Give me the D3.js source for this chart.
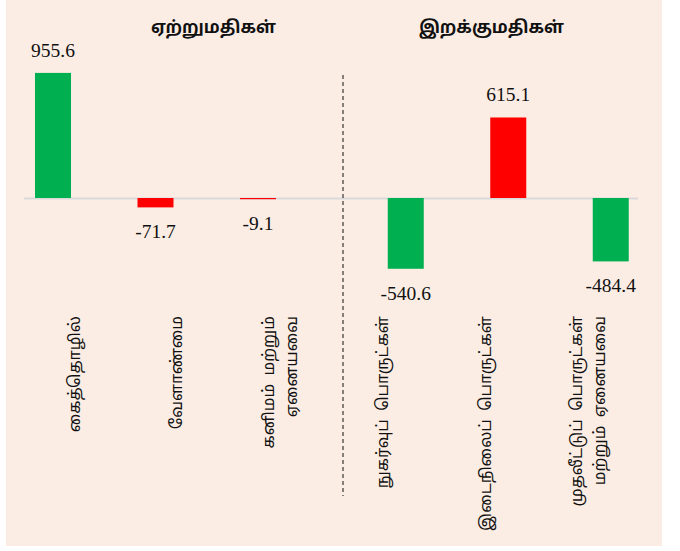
<!DOCTYPE html>
<html><head><meta charset="utf-8">
<script src="https://cdn.jsdelivr.net/npm/d3@7"></script>
<style>
html,body{margin:0;padding:0;background:#fff;}
svg{display:block;}
</style></head>
<body>
<svg id="chart" width="680" height="551"></svg>
<script>
// ---- data ----
const groupTitles = ["ஏற்றுமதிகள்", "இறக்குமதிகள்"];
const exportCats = ["கைத்தொழில்", "வேளாண்மை", "கனிமம்  மற்றும்|ஏனையவை"];
const exportVals = [955.6, -71.7, -9.1];
const importCats = ["நுகர்வுப்  பொருட்கள்", "இடைநிலைப்  பொருட்கள்", "முதலீட்டுப்  பொருட்கள்|மற்றும்  ஏனையவை"];
const importVals = [-540.6, 615.1, -484.4];

const GREEN = "#00b050", RED = "#ff0000";
const serif = "'Times New Roman','Liberation Serif',serif";
const tamil = "Latha,'Noto Sans Tamil','Lohit Tamil','Noto Sans',sans-serif";

const svg = d3.select("#chart");
svg.append("rect").attr("x", 6).attr("y", 0).attr("width", 656).attr("height", 546).attr("fill", "#fcede4");

const y = d3.scaleLinear().domain([-1000, 1000]).range([328.9, 67.1]);
const pad = 1 - 36 / 102.5;
const xL = d3.scaleBand().domain(exportCats).range([1.75, 309.25]).paddingInner(pad).paddingOuter(pad / 2);
const xR = d3.scaleBand().domain(importCats).range([354.5, 662]).paddingInner(pad).paddingOuter(pad / 2);
const xLab = d3.scaleBand().domain(exportCats.concat(importCats)).range([22.6, 639.4]);

// baseline
svg.append("line").attr("x1", 24).attr("x2", 638).attr("y1", y(0) + 0.5).attr("y2", y(0) + 0.5)
  .attr("stroke", "#d9d9d9").attr("stroke-width", 2);

const series = [
  {cats: exportCats, vals: exportVals, x: xL, pos: GREEN, neg: RED},
  {cats: importCats, vals: importVals, x: xR, pos: RED, neg: GREEN}
];

series.forEach(s => {
  const data = s.cats.map((c, i) => ({c, v: s.vals[i]}));
  svg.append("g").selectAll("rect").data(data).join("rect")
    .attr("x", d => s.x(d.c))
    .attr("width", s.x.bandwidth())
    .attr("y", d => y(Math.max(0, d.v)))
    .attr("height", d => Math.abs(y(d.v) - y(0)))
    .attr("fill", d => d.v >= 0 ? s.pos : s.neg);
  svg.append("g").selectAll("text").data(data).join("text")
    .attr("x", d => s.x(d.c) + s.x.bandwidth() / 2)
    .attr("y", d => d.v >= 0 ? y(d.v) - 16 : y(d.v) + 31)
    .attr("text-anchor", "middle")
    .attr("font-family", serif).attr("font-size", 19.5).attr("fill", "#111")
    .text(d => d.v.toFixed(1));
});

// category labels (rotated)
const labG = svg.append("g");
xLab.domain().forEach(c => {
  const lines = c.split("|");
  const cx = xLab(c) + xLab.bandwidth() / 2;
  const lh = 23;
  const off = -(lines.length - 1) * lh / 2;
  const t = labG.append("text")
    .attr("transform", `translate(${cx},316) rotate(-90)`)
    .attr("text-anchor", "end")
    .attr("font-family", tamil).attr("font-size", 16).attr("fill", "#111")
    .attr("xml:space", "preserve");
  lines.forEach((l, i) => {
    t.append("tspan").attr("x", 0).attr("y", off + i * lh).attr("dy", "0.35em").text(l);
  });
});

// group titles
const titleX = [213.5, 491.5];
svg.append("g").selectAll("text").data(groupTitles).join("text")
  .attr("x", (d, i) => titleX[i]).attr("y", 33)
  .attr("text-anchor", "middle")
  .attr("font-family", tamil).attr("font-size", 17).attr("font-weight", "bold").attr("fill", "#111")
  .text(d => d);

// dashed divider
svg.append("line").attr("x1", 343).attr("x2", 343).attr("y1", 75).attr("y2", 496)
  .attr("stroke", "#111").attr("stroke-width", 1).attr("stroke-dasharray", "4,3");
</script>
</body></html>
